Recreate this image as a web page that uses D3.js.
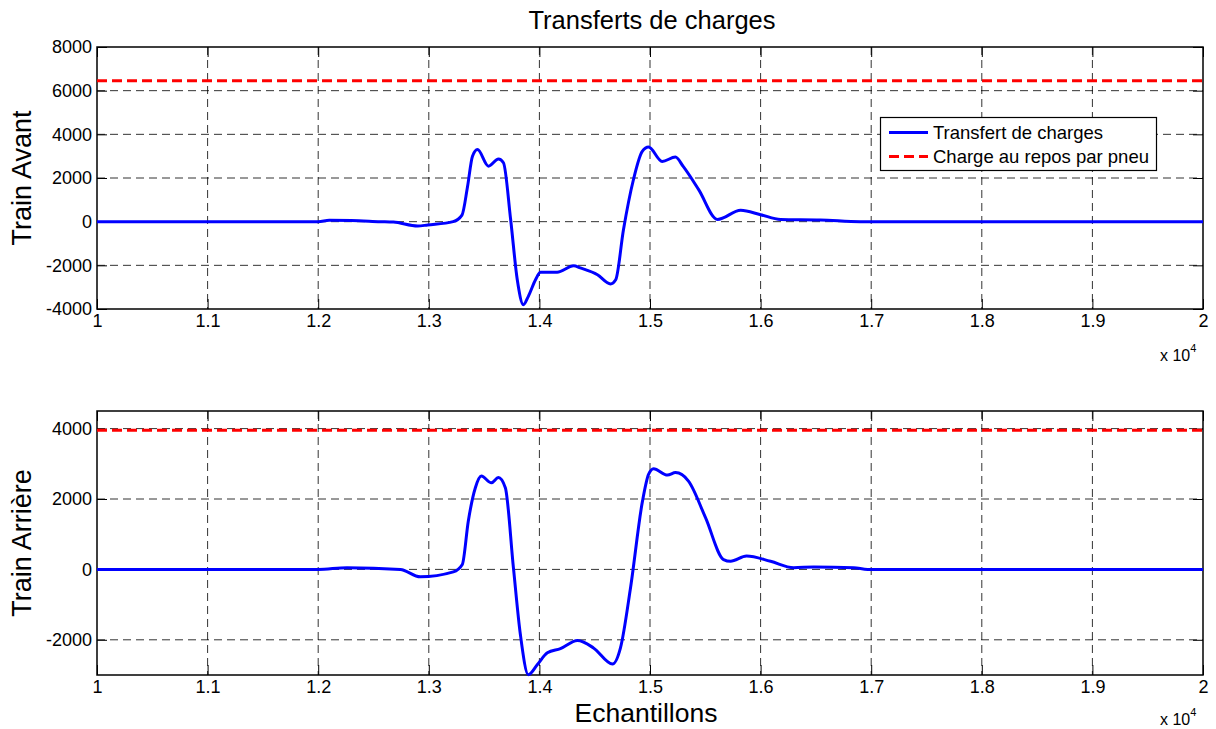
<!DOCTYPE html>
<html><head><meta charset="utf-8">
<script src="https://cdn.jsdelivr.net/npm/d3@7"></script>
<style>body{margin:0;background:#fff}svg{display:block;font-family:"Liberation Sans",Arial,sans-serif}</style>
</head><body><svg id="c" width="1216" height="729"></svg>
<script>
const title = "Transferts de charges";
const xLabel = "Echantillons";
const yLabels = ["Train Avant", "Train Arrière"];
const legendLabels = ["Transfert de charges", "Charge au repos par pneu"];
const xTicks = [10000,11000,12000,13000,14000,15000,16000,17000,18000,19000,20000];
const yTicksTop = [-4000,-2000,0,2000,4000,6000,8000];
const yTicksBottom = [-2000,0,2000,4000];
const restTop = 6450;
const restBottom = 3950;
const sampleTop = [10000,12000,12100,12300,12560,12680,12900,12990,13220,13300,13350,13395,13440,13540,13630,13675,13740,13800,13855,13900,13965,14010,14160,14310,14370,14525,14643,14690,14760,14850,14930,14987,15110,15230,15300,15440,15610,15820,16000,16180,16540,16900,20000];
const valueTop = [0,0,60,50,0,-20,-200,-150,0,300,1600,3000,3300,2540,2870,2700,100,-2660,-3800,-3420,-2660,-2320,-2320,-2020,-2120,-2430,-2850,-2660,-370,1920,3220,3420,2760,2960,2530,1470,100,520,320,100,80,0,0];
const sampleBottom = [10000,12000,12260,12742,12923,13222,13303,13357,13421,13475,13566,13629,13692,13765,13828,13900,13982,14072,14190,14344,14489,14661,14733,14824,14932,14987,15032,15158,15231,15348,15502,15665,15728,15873,16090,16299,16480,16842,16968,20000];
const valueBottom = [0,0,50,0,-210,-70,140,1370,2320,2650,2460,2610,2320,50,-1850,-2990,-2700,-2370,-2250,-2020,-2230,-2690,-2230,-520,1940,2700,2860,2680,2750,2510,1470,280,230,380,230,50,70,50,0,0];

const svg = d3.select("#c");
const L = 97, R = 1203;
const x = d3.scaleLinear().domain([10000,20000]).range([L,R]);
const panels = [
  {top:47, bottom:309, domain:[-4000,8000], ticks:yTicksTop, s:sampleTop, v:valueTop, rest:restTop, label:yLabels[0], expY:361},
  {top:411, bottom:675, domain:[-3000,4500], ticks:yTicksBottom, s:sampleBottom, v:valueBottom, rest:restBottom, label:yLabels[1], expY:725}
];
panels.forEach((p,i)=>{
  const y = d3.scaleLinear().domain(p.domain).range([p.bottom,p.top]);
  const g = svg.append("g");
  g.selectAll(".gx").data(xTicks.slice(1,-1)).join("line")
    .attr("x1",d=>x(d)).attr("x2",d=>x(d)).attr("y1",p.top).attr("y2",p.bottom)
    .attr("stroke","#000").attr("stroke-width",1).attr("stroke-dasharray","8,5").attr("opacity",0.8);
  g.selectAll(".gy").data(p.ticks.filter(t=>y(t)>p.top+1 && y(t)<p.bottom-1)).join("line")
    .attr("y1",d=>y(d)).attr("y2",d=>y(d)).attr("x1",L).attr("x2",R)
    .attr("stroke","#000").attr("stroke-width",1).attr("stroke-dasharray","8,5").attr("opacity",0.8);
  const ax = g.append("g").attr("transform",`translate(0,${p.bottom})`)
    .call(d3.axisBottom(x).tickValues(xTicks).tickSize(-10).tickPadding(5).tickFormat(d=>String(+(d/10000).toFixed(1))));
  const axT = g.append("g").attr("transform",`translate(0,${p.top})`)
    .call(d3.axisTop(x).tickValues(xTicks).tickSize(-10).tickFormat(""));
  const ay = g.append("g").attr("transform",`translate(${L},0)`)
    .call(d3.axisLeft(y).tickValues(p.ticks).tickSize(-10).tickPadding(5).tickFormat(d=>String(d)));
  const ayR = g.append("g").attr("transform",`translate(${R},0)`)
    .call(d3.axisRight(y).tickValues(p.ticks).tickSize(-10).tickFormat(""));
  [ax,axT,ay,ayR].forEach(a=>{
    a.select(".domain").remove();
    a.selectAll("line").attr("stroke","#000");
    a.selectAll("text").attr("fill","#000").style("font-size","18px").style("font-family","Liberation Sans, Arial, sans-serif");
  });
  g.append("rect").attr("x",L).attr("y",p.top).attr("width",R-L).attr("height",p.bottom-p.top)
    .attr("fill","none").attr("stroke","#000").attr("stroke-width",1.5);
  g.append("line").attr("x1",L).attr("x2",R).attr("y1",y(p.rest)).attr("y2",y(p.rest))
    .attr("stroke","#ff0000").attr("stroke-width",3).attr("stroke-dasharray","10,5");
  const pts = p.s.map((s,k)=>[s,p.v[k]]);
  g.append("path").datum(pts)
    .attr("d",d3.line().x(d=>x(d[0])).y(d=>y(d[1])).curve(d3.curveMonotoneX))
    .attr("fill","none").attr("stroke","#0000ff").attr("stroke-width",3);
  svg.append("text").attr("transform",`translate(31,${(p.top+p.bottom)/2}) rotate(-90)`)
    .attr("text-anchor","middle").style("font-size","27px").text(p.label);
  const t = svg.append("text").attr("x",1160).attr("y",p.expY).style("font-size","16px");
  t.append("tspan").text("x 10");
  t.append("tspan").attr("dy",-9).style("font-size","11px").text("4");
});
svg.append("text").attr("x",652).attr("y",29).attr("text-anchor","middle").style("font-size","25.5px").text(title);
svg.append("text").attr("x",646).attr("y",722).attr("text-anchor","middle").style("font-size","26.5px").text(xLabel);
const lg = svg.append("g");
lg.append("rect").attr("x",880.5).attr("y",117.5).attr("width",276).attr("height",53)
  .attr("fill","#fff").attr("stroke","#000").attr("stroke-width",1.2);
const lcol = ["#0000ff","#ff0000"], ldash = [null,"10,5"];
legendLabels.forEach((t,k)=>{
  const yy = 132.5 + k*24;
  lg.append("line").attr("x1",889).attr("x2",928).attr("y1",yy).attr("y2",yy)
    .attr("stroke",lcol[k]).attr("stroke-width",3).attr("stroke-dasharray",ldash[k]);
  lg.append("text").attr("x",933).attr("y",yy+6.5).style("font-size","18.5px").text(t);
});
</script></body></html>
